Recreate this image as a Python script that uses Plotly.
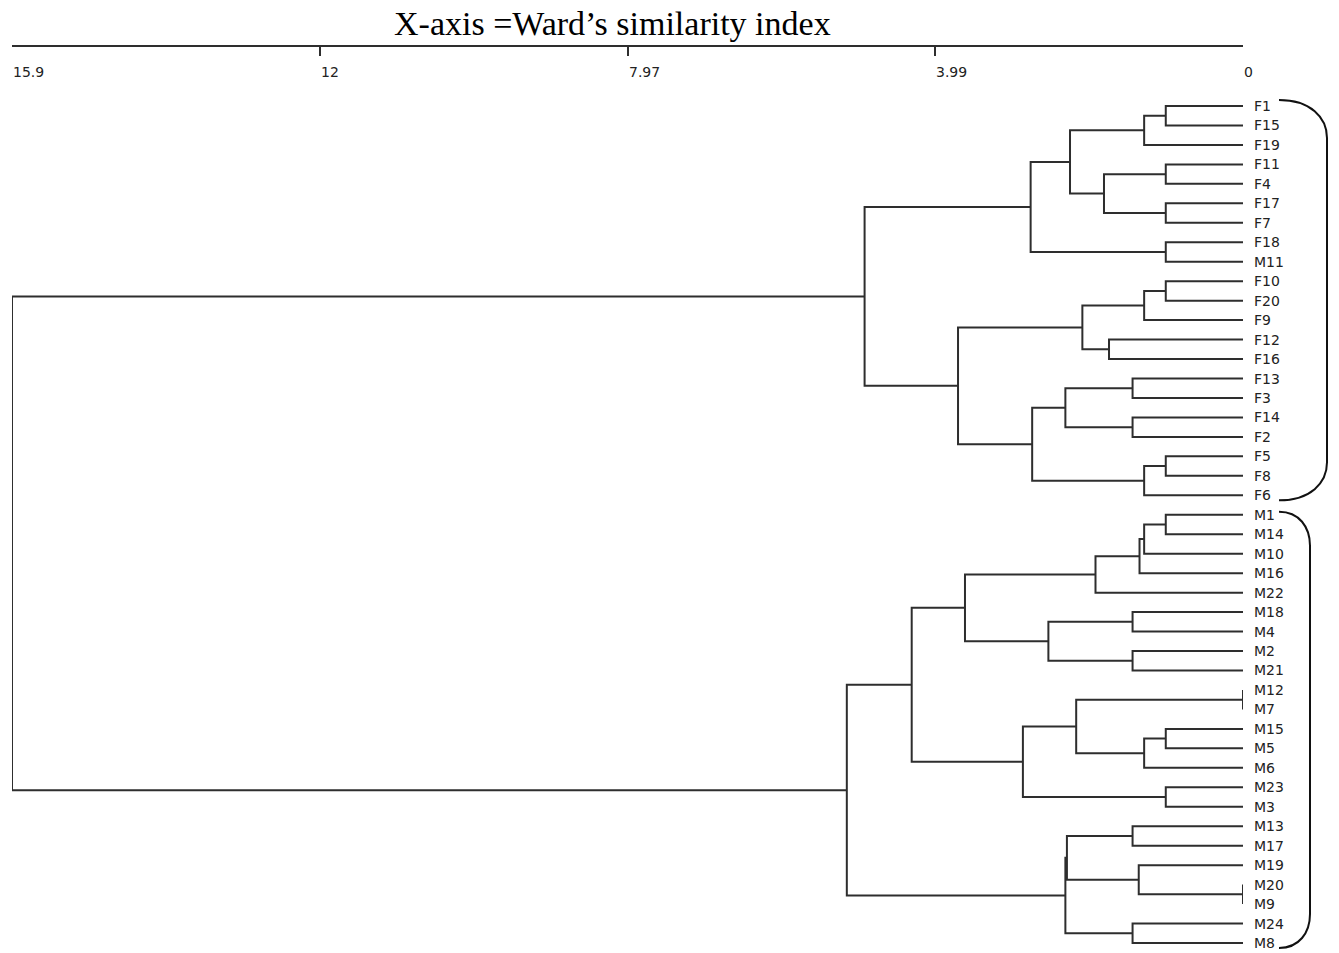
import plotly.graph_objects as go

# Leaf order, top to bottom
leaves = ["F1", "F15", "F19", "F11", "F4", "F17", "F7", "F18", "M11", "F10", "F20",
          "F9", "F12", "F16", "F13", "F3", "F14", "F2", "F5", "F8", "F6",
          "M1", "M14", "M10", "M16", "M22", "M18", "M4", "M2", "M21", "M12", "M7",
          "M15", "M5", "M6", "M23", "M3", "M13", "M17", "M19", "M20", "M9", "M24", "M8"]

# Agglomeration steps: merge k joins merge_left[k] and merge_right[k] at merge_height[k]
# and creates node "n{k+1}"
merge_left = ["F1", "n1", "F11", "F17", "n3", "n2", "F18", "n6", "F10", "n9",
              "F12", "n10", "F13", "F14", "n13", "F5", "n16", "n15", "n12", "n8",
              "M1", "n21", "n22", "n23", "M18", "M2", "n25", "n24", "M12", "M15",
              "n30", "n29", "M23", "n32", "n28", "M13", "M20", "M19", "n36", "M24",
              "n39", "n35", "n20"]
merge_right = ["F15", "F19", "F4", "F7", "n4", "n5", "M11", "n7", "F20", "F9",
               "F16", "n11", "F3", "F2", "n14", "F8", "F6", "n17", "n18", "n19",
               "M14", "M10", "M16", "M22", "M4", "M21", "n26", "n27", "M7", "M5",
               "M6", "n31", "M3", "n33", "n34", "M17", "M9", "n37", "n38", "M8",
               "n40", "n41", "n42"]
merge_height = [1.00, 1.28, 1.00, 1.00, 1.80, 2.24, 1.00, 2.75, 1.00, 1.28,
                1.735, 2.08, 1.43, 1.43, 2.30, 1.00, 1.28, 2.73, 3.69, 4.90,
                1.00, 1.28, 1.34, 1.91, 1.43, 1.43, 2.52, 3.60, 0.00, 1.00,
                1.28, 2.16, 1.00, 2.85, 4.29, 1.43, 0.00, 1.35, 2.28, 1.43,
                2.30, 5.13, 15.94]

# Axis scale
axis_max = 15.94
tick_vals = [15.94, 11.955, 7.97, 3.985, 0]
tick_text = ["15.9", "12", "7.97", "3.99", "0"]

title_text = "X-axis =Ward\u2019s similarity index"
line_color = "#2e2e2e"
text_color = "#222"

# Figure geometry (pixels)
W, H = 1339, 953
ML, MR, MT, MB = 12, 96, 47, 5
PW, PH = W - ML - MR, H - MT - MB
first_leaf_px, leaf_step_px = 59, 19.465   # leaf 0 offset from plot top, spacing

y_top = -first_leaf_px / leaf_step_px
y_bot = y_top + PH / leaf_step_px

# Compute node positions and build the dendrogram path
pos = {name: (float(i), 0.0) for i, name in enumerate(leaves)}
xs, ys = [], []
for k, (a, b, h) in enumerate(zip(merge_left, merge_right, merge_height)):
    ya, ha = pos[a]
    yb, hb = pos[b]
    xs += [ha, h, h, hb, None]
    ys += [ya, ya, yb, yb, None]
    pos[f"n{k + 1}"] = ((ya + yb) / 2, h)

fig = go.Figure()
fig.add_trace(go.Scatter(x=xs, y=ys, mode="lines",
                         line=dict(color=line_color, width=2),
                         hoverinfo="skip", showlegend=False))


def paper_x(px):
    return (px - ML) / PW


def paper_y_from_index(idx, dy=0.0):
    py = MT + first_leaf_px + idx * leaf_step_px + dy
    return 1 - (py - MT) / PH


# Tick labels, left-aligned at their tick marks below the axis line
for v, t in zip(tick_vals, tick_text):
    fig.add_annotation(x=v, xref="x", y=1, yref="paper", yshift=-25, xshift=-1,
                       text=t, showarrow=False, xanchor="left", yanchor="middle",
                       font=dict(family="DejaVu Sans", size=14, color=text_color))

# Leaf labels
for i, name in enumerate(leaves):
    fig.add_annotation(x=paper_x(ML + PW + 9), xref="paper", y=i, yref="y",
                       text=name, showarrow=False, xanchor="left", yanchor="middle",
                       font=dict(family="DejaVu Sans", size=14, color=text_color))


# Group brackets beside the F and M clusters
def bracket(i0, i1, x0px, x1px, top_dy, bot_dy, ry):
    y0 = paper_y_from_index(i0, top_dy)
    y1 = paper_y_from_index(i1, bot_dy)
    x0, x1 = paper_x(x0px), paper_x(x1px)
    xm = paper_x(x0px + (x1px - x0px) * 0.65)
    rdy = ry / PH
    path = (f"M {x0},{y0} C {xm},{y0} {x1},{y0 - rdy * 0.45} {x1},{y0 - rdy} "
            f"L {x1},{y1 + rdy} "
            f"C {x1},{y1 + rdy * 0.45} {xm},{y1} {x0},{y1}")
    fig.add_shape(type="path", path=path, xref="paper", yref="paper",
                  line=dict(color="#111", width=2))


n_f = sum(1 for n in leaves if n.startswith("F")) + 1   # F block includes M11
bracket(0, n_f - 1, 1279, 1327, -6, 5, 38)
bracket(n_f, len(leaves) - 1, 1279, 1310, -3, 5, 34)

# Title above the axis
fig.add_annotation(x=paper_x(612.5), xref="paper", y=1, yref="paper", yshift=24,
                   text=title_text, showarrow=False, xanchor="center", yanchor="middle",
                   font=dict(family="Liberation Serif", size=34, color="#000"))

fig.update_layout(
    width=W, height=H,
    margin=dict(l=ML, r=MR, t=MT, b=MB, pad=0),
    paper_bgcolor="white", plot_bgcolor="white",
    showlegend=False,
    xaxis=dict(range=[axis_max, 0], side="top", showline=True, linecolor=line_color,
               linewidth=2, ticks="inside", ticklen=9, tickwidth=1.5, tickcolor=line_color,
               tickvals=tick_vals, showticklabels=False,
               showgrid=False, zeroline=False, fixedrange=True),
    yaxis=dict(range=[y_bot, y_top], visible=False, showgrid=False, zeroline=False,
               fixedrange=True),
)

fig.write_html("out.html")
